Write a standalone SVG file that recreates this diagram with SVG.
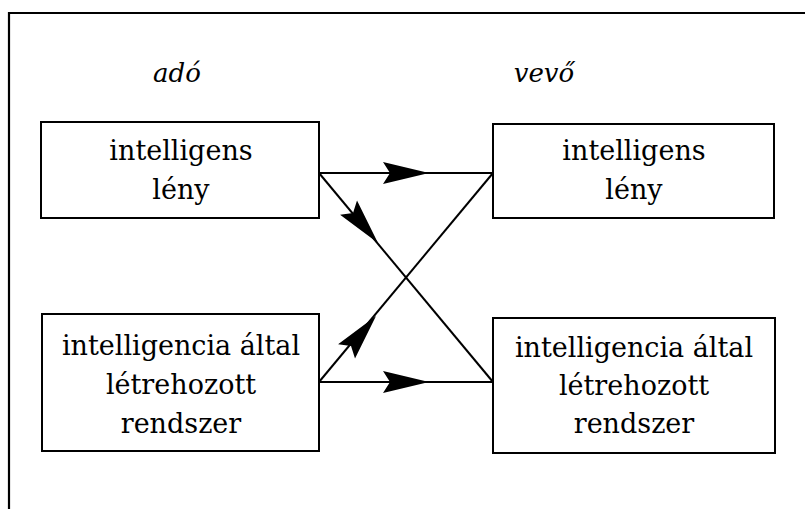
<svg xmlns="http://www.w3.org/2000/svg" width="805" height="509" viewBox="0 0 805 509">
  <style>
    .box { fill: #fff; stroke: #000; stroke-width: 2; }
    .frame { fill: none; stroke: #000; stroke-width: 2.2; }
    .wire { fill: none; stroke: #000; stroke-width: 2; }
    .head { fill: #000; stroke: none; }
    .lbl { font-family: "DejaVu Serif", serif; font-size: 27px; fill: #000; text-anchor: middle; }
    .role { font-family: "DejaVu Serif", serif; font-size: 26px; font-style: italic; fill: #000; text-anchor: middle; }
  </style>
  <defs>
    <!-- barbed arrowhead pointing along +x, tip at origin -->
    <path id="ah" class="head" d="M 0,0 L -46,-11 L -39,0 L -46,11 Z"/>
  </defs>

  <rect width="805" height="509" fill="#fff"/>

  <!-- outer frame, running off the right and bottom edges -->
  <path class="frame" d="M 9,509 L 9,13 L 805,13"/>

  <!-- column headings -->
  <text class="role" x="177" y="82">adó</text>
  <text class="role" x="544" y="82">vevő</text>

  <g id="sender-being">
    <rect class="box" x="41" y="122" width="278" height="96"/>
    <text class="lbl" x="181" y="160">intelligens</text>
    <text class="lbl" x="181" y="199">lény</text>
  </g>

  <g id="sender-system">
    <rect class="box" x="42" y="314" width="277" height="137"/>
    <text class="lbl" x="181" y="355">intelligencia által</text>
    <text class="lbl" x="181" y="394">létrehozott</text>
    <text class="lbl" x="181" y="433">rendszer</text>
  </g>

  <g id="receiver-being">
    <rect class="box" x="493" y="124" width="281" height="94"/>
    <text class="lbl" x="634" y="160">intelligens</text>
    <text class="lbl" x="634" y="199">lény</text>
  </g>

  <g id="receiver-system">
    <rect class="box" x="493" y="318" width="282" height="135"/>
    <text class="lbl" x="634" y="357">intelligencia által</text>
    <text class="lbl" x="634" y="395">létrehozott</text>
    <text class="lbl" x="634" y="433">rendszer</text>
  </g>

  <g id="connectors">
    <line class="wire" x1="319" y1="173" x2="493" y2="173"/>
    <line class="wire" x1="319" y1="173" x2="493" y2="382"/>
    <line class="wire" x1="319" y1="382" x2="493" y2="173"/>
    <line class="wire" x1="319" y1="382" x2="493" y2="382"/>
    <use href="#ah" transform="translate(429,173)"/>
    <use href="#ah" transform="translate(378,243) rotate(50.2)"/>
    <use href="#ah" transform="translate(376,316) rotate(-50.2)"/>
    <use href="#ah" transform="translate(429,382)"/>
  </g>
</svg>
